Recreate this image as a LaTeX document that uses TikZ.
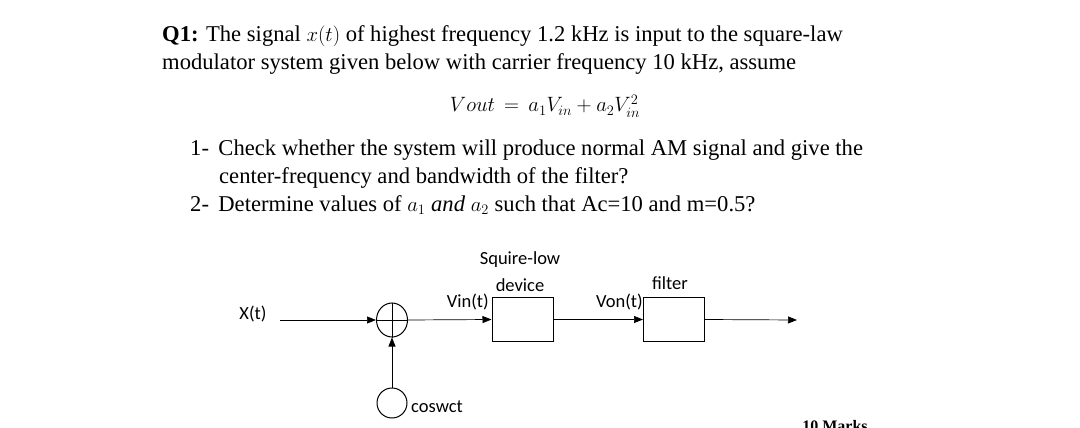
\documentclass[tikz,border=0pt]{standalone}
\usepackage{amsmath}
\usepackage{fontspec}
\setmainfont{Liberation Serif}
\newfontfamily\diagfont{Carlito}
\usetikzlibrary{arrows.meta,shapes.geometric}
\begin{document}
\begin{tikzpicture}[x=1pt,y=-1pt,
  txt/.style={anchor=base west,inner sep=0,font=\fontsize{22.6}{25}\selectfont},
  lab/.style={inner sep=0,font=\diagfont\fontsize{18.5}{20}\selectfont},
  blk/.style={draw,line width=1pt,minimum width=61pt,minimum height=44pt,inner sep=0},
  con/.style={line width=0.7pt,-{Triangle[length=9pt,width=7pt]}}]
\useasboundingbox (0,0) rectangle (1080,428);
\node[txt] (l1) at (162,42) {\textbf{Q1:} The signal $x(t)$ of highest frequency 1.2 kHz is input to the square-law};
\node[txt] (l2) at (162,70) {modulator system given below with carrier frequency 10 kHz, assume};
\node[txt,anchor=base] (eq) at (545,112) {$Vout\,=\,a_1V_{in}+a_2V_{in}^2$};
\node[txt] (i1) at (190,155) {1-\, Check whether the system will produce normal AM signal and give the};
\node[txt] (i1b) at (219,183) {center-frequency and bandwidth of the filter?};
\node[txt] (i2) at (190,211) {2-\, Determine values of $a_1$ \textit{and} $a_2$ such that Ac=10 and m=0.5?};
\node[lab] (x) at (253,314) {X(t)};
\coordinate (xs) at (280,320);
\node[draw,ellipse,line width=1pt,minimum width=31pt,minimum height=34pt,inner sep=0] (sum) at (392,320) {};
\draw[line width=1pt] (sum.north)--(sum.south) (sum.west)--(sum.east);
\node[blk] (b1) at (522.5,319.5) {};
\node[blk] (b2) at (674,319.5) {};
\coordinate (out) at (797,320);
\node[draw,circle,line width=1pt,minimum size=30pt,inner sep=0] (osc) at (392,403) {};
\node[lab,anchor=west] (cw) at (411,407) {coswct};
\node[lab] (s1) at (520,260) {Squire-low};
\node[lab] (s2) at (520,285) {device};
\node[lab] (f) at (670,283) {filter};
\node[lab,anchor=east] (vin) at (489,302) {Vin(t)};
\node[lab,anchor=east] (von) at (643,302) {Von(t)};
\node[anchor=base,inner sep=0,font=\bfseries\fontsize{16}{18}\selectfont] (m) at (835,431) {10 Marks};
\draw[con] (xs) -- (sum.west);
\draw[con] (sum.east) -- (b1.west);
\draw[con] (b1.east) -- (b2.west);
\draw[con] (b2.east) -- (out);
\draw[con] (osc.north) -- (sum.south);
\end{tikzpicture}
\end{document}
